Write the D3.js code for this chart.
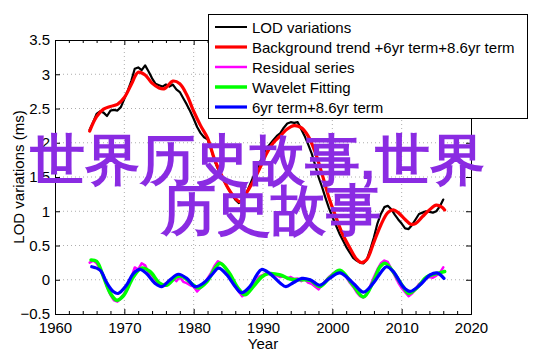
<!DOCTYPE html>
<html><head><meta charset="utf-8">
<script src="https://cdn.jsdelivr.net/npm/d3@7"></script>
<style>
html,body{margin:0;padding:0;background:#fff;}
svg{display:block;}
text{font-family:"Liberation Sans",Arial,Helvetica,sans-serif;}
</style></head>
<body>
<svg id="chart" width="542" height="356"></svg>
<script>
// ---------- data ----------
const xTicks = [1960, 1970, 1980, 1990, 2000, 2010, 2020];
const yTicks = [-0.5, 0, 0.5, 1, 1.5, 2, 2.5, 3, 3.5];
const yTickLabels = ["\u22120.5", "0", "0.5", "1", "1.5", "2", "2.5", "3", "3.5"];

const legendLabels = ["LOD variations", "Background trend +6yr term+8.6yr term", "Residual series", "Wavelet Fitting", "6yr term+8.6yr term"];
const seriesColors = ["#000000", "#ff0000", "#ff00ff", "#00ff00", "#0000ff"];

const overlayLines = ["世界历史故事,世界", "历史故事"];

const lodYears = [1965.0,1965.5,1966.0,1966.5,1967.0,1967.5,1968.0,1968.5,1969.0,1969.5,1970.0,1970.5,1971.0,1971.5,1972.0,1972.5,1973.0,1973.5,1974.0,1974.5,1975.0,1975.5,1976.0,1976.5,1977.0,1977.5,1978.0,1978.5,1979.0,1979.5,1980.0,1980.5,1981.0,1981.5,1982.0,1982.5,1983.0,1983.5,1984.0,1984.5,1985.0,1985.5,1986.0,1986.5,1987.0,1987.5,1988.0,1988.5,1989.0,1989.5,1990.0,1990.5,1991.0,1991.5,1992.0,1992.5,1993.0,1993.5,1994.0,1994.5,1995.0,1995.5,1996.0,1996.5,1997.0,1997.5,1998.0,1998.5,1999.0,1999.5,2000.0,2000.5,2001.0,2001.5,2002.0,2002.5,2003.0,2003.5,2004.0,2004.5,2005.0,2005.5,2006.0,2006.5,2007.0,2007.5,2008.0,2008.5,2009.0,2009.5,2010.0,2010.5,2011.0,2011.5,2012.0,2012.5,2013.0,2013.5,2014.0,2014.5,2015.0,2015.5,2016.0];
const lodValues = [2.19,2.30,2.42,2.46,2.44,2.39,2.47,2.48,2.47,2.52,2.64,2.76,2.90,3.08,3.10,3.06,3.13,3.04,2.94,2.86,2.84,2.82,2.85,2.82,2.85,2.78,2.74,2.65,2.56,2.46,2.35,2.23,2.14,2.08,2.05,1.92,1.74,1.62,1.52,1.42,1.33,1.24,1.17,1.12,1.15,1.24,1.36,1.48,1.58,1.70,1.82,1.92,1.98,2.04,2.10,2.14,2.22,2.28,2.30,2.29,2.30,2.20,2.10,1.98,1.85,1.68,1.50,1.36,1.20,1.05,0.92,0.80,0.68,0.58,0.48,0.40,0.32,0.28,0.25,0.24,0.30,0.45,0.62,0.82,0.96,1.06,1.08,1.03,0.95,0.88,0.82,0.75,0.74,0.80,0.88,0.96,0.98,1.00,0.99,0.98,1.00,1.07,1.17];

const trendYears = [1965.0,1966.0,1967.0,1968.0,1969.0,1970.0,1971.0,1972.0,1973.0,1974.0,1975.0,1975.8,1977.0,1978.0,1979.0,1980.0,1981.0,1982.0,1983.0,1984.0,1985.0,1986.0,1986.7,1987.5,1988.5,1989.5,1990.5,1991.5,1992.5,1993.5,1994.5,1995.5,1996.5,1997.5,1998.5,1999.5,2000.5,2001.5,2002.5,2003.5,2004.2,2005.0,2006.0,2007.0,2008.0,2008.8,2009.5,2010.5,2011.3,2012.0,2013.0,2014.0,2015.0,2015.8,2016.2];
const trendValues = [2.17,2.38,2.49,2.53,2.56,2.66,2.85,3.03,2.99,2.87,2.80,2.79,2.90,2.86,2.70,2.46,2.25,2.07,1.76,1.53,1.33,1.19,1.14,1.25,1.42,1.62,1.84,2.00,2.10,2.20,2.25,2.22,2.10,1.87,1.55,1.20,0.92,0.66,0.47,0.30,0.25,0.30,0.55,0.80,0.98,1.02,0.98,0.88,0.81,0.82,0.92,1.02,1.09,1.06,1.02];

const residYears = lodYears;
const residValues = [0.25,0.28,0.24,0.16,0.05,-0.10,-0.22,-0.30,-0.32,-0.27,-0.20,-0.08,0.03,0.18,0.15,0.24,0.21,0.10,0.06,-0.04,-0.06,-0.08,-0.05,-0.03,0.02,-0.02,0.04,-0.03,-0.05,-0.08,-0.10,-0.17,-0.12,-0.06,0.02,0.10,0.20,0.27,0.24,0.18,0.10,0.02,-0.10,-0.17,-0.24,-0.20,-0.16,-0.10,-0.02,0.05,0.07,0.10,0.08,0.07,0.06,0.04,0.05,0.02,0.04,0.01,0.02,-0.02,0.01,-0.04,-0.06,-0.10,-0.14,-0.08,-0.02,0.04,0.08,0.12,0.14,0.10,0.04,-0.04,-0.10,-0.18,-0.24,-0.26,-0.20,-0.08,0.04,0.15,0.24,0.28,0.26,0.16,0.06,-0.04,-0.12,-0.18,-0.24,-0.20,-0.14,-0.06,-0.04,0.02,0.04,0.03,0.06,0.10,0.18];

const waveletYears = [1965.2,1966.0,1967.0,1968.0,1968.9,1969.9,1971.3,1972.5,1973.7,1975.1,1976.1,1977.5,1978.3,1980.0,1980.7,1981.9,1983.1,1983.8,1985.0,1986.4,1987.4,1988.6,1989.8,1990.8,1992.5,1993.9,1995.5,1996.8,1998.2,1999.6,2001.1,2003.0,2004.5,2005.9,2006.9,2007.6,2008.6,2010.2,2011.0,2012.2,2013.6,2015.1,2016.2];
const waveletValues = [0.29,0.27,0.04,-0.20,-0.30,-0.23,0.04,0.17,0.12,-0.05,-0.08,0.04,0.05,-0.08,-0.12,-0.03,0.17,0.24,0.12,-0.12,-0.22,-0.10,0.04,0.09,0.07,0.01,0.00,-0.01,-0.10,0.03,0.14,-0.08,-0.25,-0.03,0.19,0.24,0.14,-0.10,-0.20,-0.12,0.04,0.09,0.12];

const termYears = [1965.3,1966.5,1967.5,1968.4,1969.1,1970.3,1971.3,1972.3,1973.2,1974.4,1975.4,1976.6,1977.8,1979.0,1980.2,1981.4,1982.6,1983.6,1984.8,1986.0,1986.9,1988.1,1989.1,1989.8,1991.0,1992.5,1993.3,1994.4,1995.6,1996.8,1998.2,1999.6,2001.1,2003.0,2004.5,2005.9,2007.1,2007.8,2008.8,2010.2,2011.2,2012.6,2014.1,2015.1,2016.1];
const termValues = [0.19,0.14,-0.05,-0.17,-0.20,-0.08,0.09,0.15,0.09,-0.05,-0.10,0.00,0.08,0.02,-0.10,-0.05,0.07,0.17,0.07,-0.10,-0.19,-0.10,0.07,0.15,0.09,-0.05,-0.10,-0.04,0.02,0.00,-0.08,0.02,0.10,-0.05,-0.18,-0.05,0.12,0.19,0.12,-0.10,-0.17,-0.08,0.07,0.10,0.02];

// ---------- layout ----------
const svg = d3.select("#chart");
const L = 55, R = 471, T = 40, B = 314;
const x = d3.scaleLinear().domain([1960, 2020]).range([L, R]);
const y = d3.scaleLinear().domain([-0.5, 3.5]).range([B, T]);

// grid
const grid = svg.append("g").attr("stroke", "#999").attr("stroke-width", 0.8).attr("stroke-dasharray", "1,3");
xTicks.slice(1, -1).forEach(v => grid.append("line").attr("x1", x(v)).attr("x2", x(v)).attr("y1", T).attr("y2", B));
yTicks.slice(1, -1).forEach(v => grid.append("line").attr("x1", L).attr("x2", R).attr("y1", y(v)).attr("y2", y(v)));

// series
const pts = (xs, vs) => xs.map((d, i) => [d, vs[i]]);
const line = d3.line().x(d => x(d[0])).y(d => y(d[1]));
const smooth = d3.line().x(d => x(d[0])).y(d => y(d[1])).curve(d3.curveCatmullRom.alpha(0.5));
const plot = svg.append("g").attr("fill", "none").attr("stroke-linejoin", "round").attr("stroke-linecap", "round");
plot.append("path").attr("d", line(pts(lodYears, lodValues))).attr("stroke", seriesColors[0]).attr("stroke-width", 2.2);
plot.append("path").attr("d", smooth(pts(trendYears, trendValues))).attr("stroke", seriesColors[1]).attr("stroke-width", 3.2);
plot.append("path").attr("d", line(pts(residYears, residValues))).attr("stroke", seriesColors[2]).attr("stroke-width", 2.5);
plot.append("path").attr("d", smooth(pts(waveletYears, waveletValues))).attr("stroke", seriesColors[3]).attr("stroke-width", 3.5);
plot.append("path").attr("d", smooth(pts(termYears, termValues))).attr("stroke", seriesColors[4]).attr("stroke-width", 3.2);

// axes
const minorX = d3.range(1962, 2020, 2).filter(v => v % 10 !== 0);
const fs = "15px";
const axB = svg.append("g").attr("transform", `translate(0,${B})`)
  .call(d3.axisBottom(x).tickValues(xTicks).tickFormat(d3.format("d")).tickSize(-5).tickPadding(8));
const axL = svg.append("g").attr("transform", `translate(${L},0)`)
  .call(d3.axisLeft(y).tickValues(yTicks).tickFormat((d, i) => yTickLabels[i]).tickSize(-5).tickPadding(5));
const axT = svg.append("g").attr("transform", `translate(0,${T})`)
  .call(d3.axisTop(x).tickValues(xTicks).tickFormat("").tickSize(-5));
const axR = svg.append("g").attr("transform", `translate(${R},0)`)
  .call(d3.axisRight(y).tickValues(yTicks).tickFormat("").tickSize(-5));
svg.append("g").attr("transform", `translate(0,${B})`)
  .call(d3.axisBottom(x).tickValues(minorX).tickFormat("").tickSize(-3)).select(".domain").remove();
svg.append("g").attr("transform", `translate(0,${T})`)
  .call(d3.axisTop(x).tickValues(minorX).tickFormat("").tickSize(-3)).select(".domain").remove();
[axB, axL, axT, axR].forEach(a => {
  a.selectAll("text").attr("font-size", fs).attr("font-family", "'Liberation Sans',Arial,sans-serif").attr("fill", "#000");
  a.selectAll("line,path").attr("stroke", "#000");
});
svg.selectAll(".domain").attr("stroke", "#000").attr("stroke-width", 1);

// axis titles
svg.append("text").attr("x", 263).attr("y", 349).attr("text-anchor", "middle").attr("font-size", fs).text("Year");
svg.append("text").attr("transform", `translate(24,${(T + B) / 2}) rotate(-90)`).attr("text-anchor", "middle").attr("font-size", fs).text("LOD variations (ms)");

// legend
const lg = svg.append("g");
lg.append("rect").attr("x", 208.5).attr("y", 14.5).attr("width", 319).attr("height", 104).attr("fill", "#fff").attr("stroke", "#000").attr("stroke-width", 1);
const legendWidths = [2, 3.2, 2.5, 3.5, 3.2];
legendLabels.forEach((lab, i) => {
  const cy = 27 + i * 20;
  lg.append("line").attr("x1", 215).attr("x2", 247).attr("y1", cy).attr("y2", cy).attr("stroke", seriesColors[i]).attr("stroke-width", legendWidths[i]);
  lg.append("text").attr("x", 252).attr("y", cy + 5.5).attr("font-size", fs).text(lab);
});

// overlay text
const ov = svg.append("text").attr("font-family", "'Noto Sans CJK SC',sans-serif").attr("font-weight", "bold").attr("font-size", 55).attr("fill", "#8a2be2");
ov.append("tspan").attr("x", 30).attr("y", 179).text(overlayLines[0]);
ov.append("tspan").attr("x", 161).attr("y", 229).text(overlayLines[1]);
</script>
</body></html>
